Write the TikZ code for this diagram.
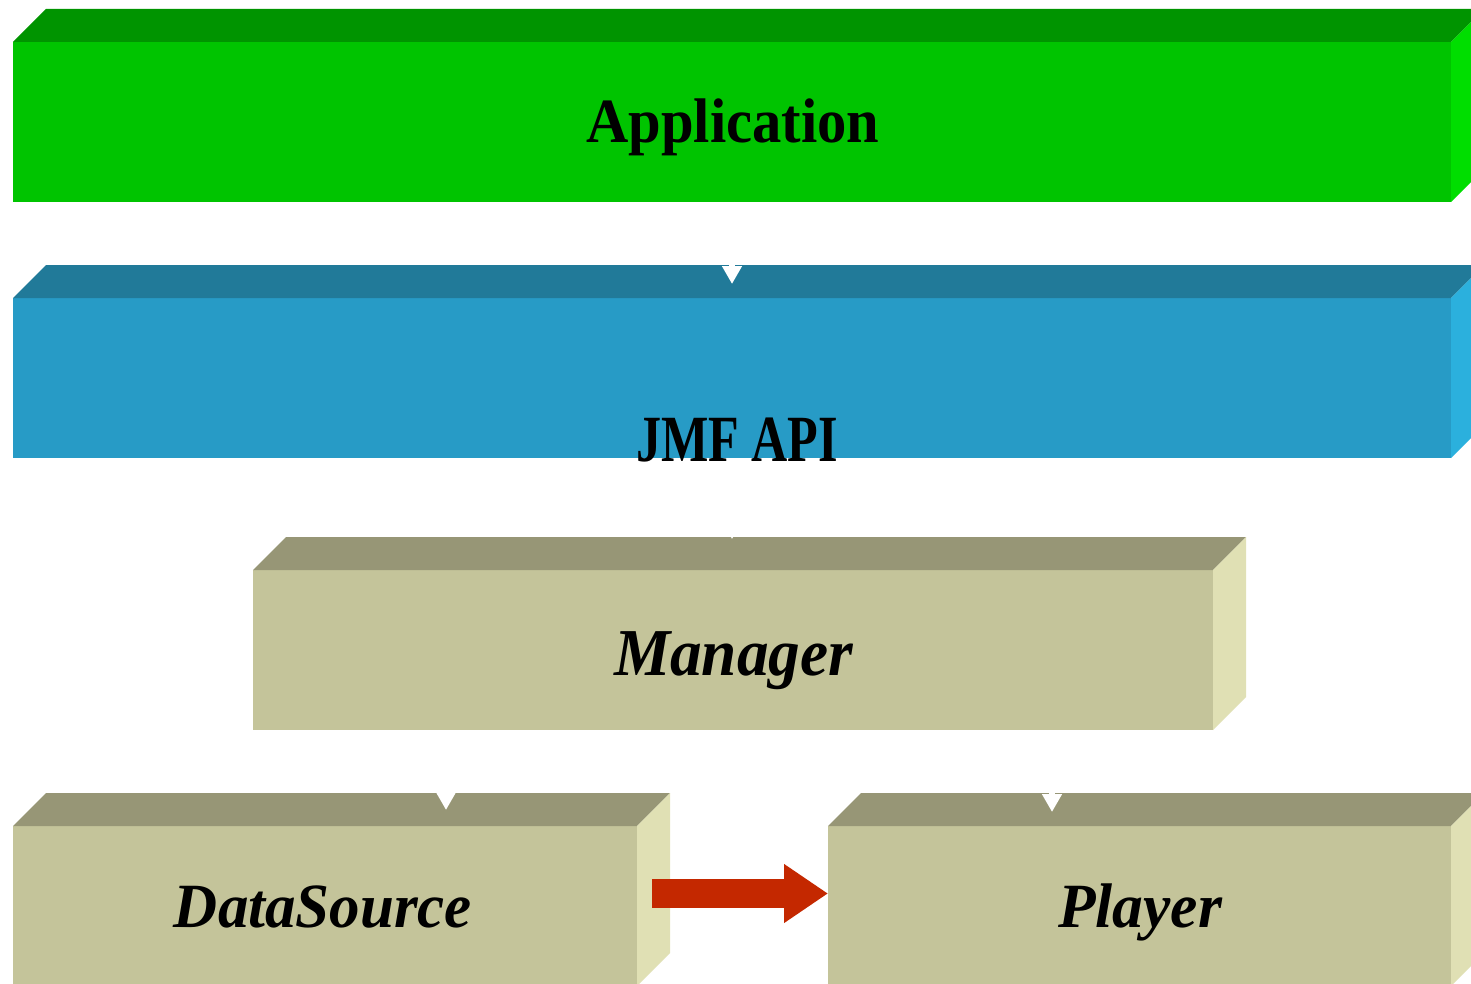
\documentclass[tikz,border=0pt]{standalone}
\usepackage{graphicx}
\usepackage{fontspec}
\setmainfont{Liberation Serif}
\usetikzlibrary{arrows.meta,calc}
\definecolor{gfront}{HTML}{00C400}
\definecolor{gtop}{HTML}{009400}
\definecolor{gside}{HTML}{00DE00}
\definecolor{bfront}{HTML}{279BC6}
\definecolor{btop}{HTML}{217A99}
\definecolor{bside}{HTML}{2BB0DD}
\definecolor{tfront}{HTML}{C4C49A}
\definecolor{ttop}{HTML}{979676}
\definecolor{tside}{HTML}{E0E0B4}
\definecolor{arrred}{HTML}{C42800}
\tikzset{
  face/.style={draw=none, inner sep=0pt, outer sep=0pt, anchor=north west},
  lbl/.style={anchor=base, inner sep=0pt, outer sep=0pt, text=black},
  wconn/.style={draw=white, line width=6pt, -{Triangle[width=19pt,length=18pt]}},
  wthin/.style={draw=white, line width=2pt, -{Triangle[width=6pt,length=6pt]}},
  bigarrow/.style={draw=arrred, line width=29pt, -{Triangle[width=56pt,length=44pt]}},
}
\newcommand{\threedbox}[8]{%
  \node[face, fill=#6, minimum width=#4pt, minimum height=#5pt] (#1) at (#2,#3) {};
  \fill[#7] (#1.north west) -- ++(33,-33) -- ++(#4,0) -- (#1.north east) -- cycle;
  \fill[#8] (#1.north east) -- ++(33,-33) -- ++(0,#5) -- (#1.south east) -- cycle;
}
\begin{document}
\begin{tikzpicture}[x=1pt,y=-1pt]
\useasboundingbox (0,0) rectangle (1471,984);
\clip (0,0) rectangle (1471,984);
\fill[white] (0,0) rectangle (1471,984);
% boxes
\threedbox{app}{13}{42}{1438}{160}{gfront}{gtop}{gside}
\threedbox{jmf}{13}{298}{1438}{160}{bfront}{btop}{bside}
\threedbox{mgr}{253}{570}{960}{160}{tfront}{ttop}{tside}
\threedbox{ds}{13}{826}{624}{160}{tfront}{ttop}{tside}
\threedbox{pl}{828}{826}{623}{160}{tfront}{ttop}{tside}
% white connectors
\draw[wconn] (app.south) -- ($(app.south |- jmf.north)+(0,-14)$);
\draw[wthin] (jmf.south) -- ($(jmf.south |- mgr.north)+(0,-31)$);
\coordinate (m1) at ($(mgr.south west)+(193,0)$);
\coordinate (m2) at ($(mgr.south west)+(799,0)$);
\draw[wconn] (m1) -- ($(m1 |- ds.north)+(0,-16)$);
\draw[wconn] (m2) -- ($(m2 |- pl.north)+(0,-14)$);
% red arrow
\coordinate (ra) at (652,893.5);
\draw[bigarrow] (ra) -- (pl.west |- ra);
% labels
\node[lbl, font=\fontsize{63pt}{70pt}\selectfont\bfseries] (tapp) at (733,143) {\resizebox{293pt}{\height}{Application}};
\node[lbl, font=\fontsize{66pt}{72pt}\selectfont\bfseries] (tjmf) at (737,461) {\resizebox{202pt}{\height}{JMF API}};
\node[lbl, font=\fontsize{67pt}{72pt}\selectfont\bfseries\itshape] (tmgr) at (733.5,675) {\resizebox{239pt}{\height}{Manager}};
\node[lbl, font=\fontsize{63pt}{70pt}\selectfont\bfseries\itshape] (tds) at (323,927) {\resizebox{298pt}{\height}{DataSource}};
\node[lbl, font=\fontsize{63pt}{70pt}\selectfont\bfseries\itshape] (tpl) at (1140,927) {\resizebox{164pt}{\height}{Player}};
\end{tikzpicture}
\end{document}
